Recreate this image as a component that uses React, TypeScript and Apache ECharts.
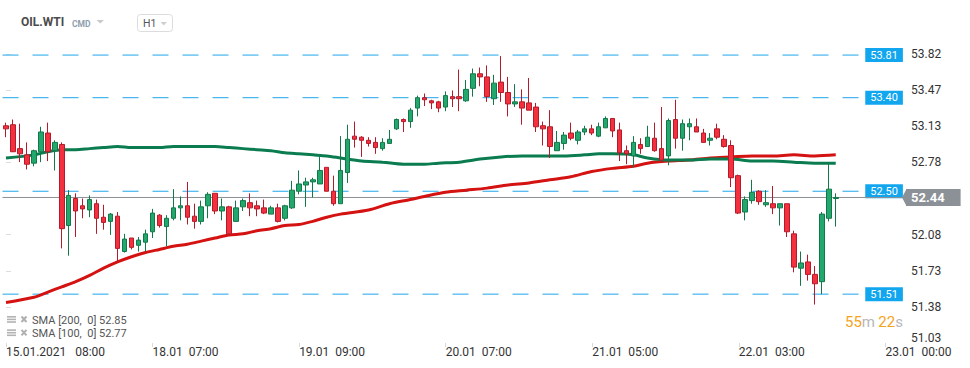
import React, { useEffect, useRef } from 'react';
import * as echarts from 'echarts';

// [open, high, low, close] for each hourly candle
const candles: number[][] = [
  [53.13, 53.16, 53.02, 53.10], [53.14, 53.19, 52.88, 52.88], [52.91, 53.15, 52.78, 52.86], [52.85, 52.97, 52.71, 52.76],
  [52.77, 52.90, 52.74, 52.89], [52.88, 53.12, 52.78, 53.07], [53.06, 53.16, 52.79, 52.88], [52.89, 52.99, 52.70, 52.97],
  [52.95, 52.97, 51.95, 52.14], [52.17, 52.51, 51.88, 52.46], [52.43, 52.48, 52.06, 52.31], [52.36, 52.43, 52.24, 52.33],
  [52.32, 52.46, 52.25, 52.42], [52.38, 52.42, 52.09, 52.24], [52.25, 52.37, 52.13, 52.20], [52.21, 52.29, 52.08, 52.28],
  [52.26, 52.30, 51.82, 51.95], [51.92, 52.09, 51.91, 52.04], [52.05, 52.05, 51.94, 51.96], [51.98, 52.06, 51.92, 52.03],
  [52.01, 52.13, 51.92, 52.09], [52.11, 52.33, 52.05, 52.29], [52.27, 52.28, 52.15, 52.17], [52.16, 52.27, 51.97, 52.24],
  [52.24, 52.52, 52.22, 52.34], [52.34, 52.45, 52.22, 52.36], [52.36, 52.59, 52.18, 52.25], [52.26, 52.38, 52.14, 52.21],
  [52.21, 52.41, 52.18, 52.35], [52.36, 52.49, 52.24, 52.47], [52.48, 52.48, 52.28, 52.31], [52.31, 52.43, 52.22, 52.35],
  [52.35, 52.36, 52.08, 52.09], [52.21, 52.41, 52.21, 52.34], [52.35, 52.43, 52.31, 52.41], [52.39, 52.48, 52.26, 52.34],
  [52.36, 52.41, 52.26, 52.33], [52.34, 52.42, 52.28, 52.29], [52.28, 52.36, 52.28, 52.34], [52.34, 52.38, 52.20, 52.21],
  [52.24, 52.37, 52.22, 52.36], [52.34, 52.60, 52.33, 52.51], [52.50, 52.70, 52.47, 52.57], [52.56, 52.63, 52.35, 52.59],
  [52.59, 52.63, 52.44, 52.61], [52.57, 52.83, 52.57, 52.70], [52.73, 52.73, 52.50, 52.50], [52.50, 52.65, 52.36, 52.38],
  [52.38, 53.03, 52.38, 52.70], [52.68, 53.14, 52.58, 53.00], [53.03, 53.17, 52.92, 53.00], [53.02, 53.03, 52.83, 52.99],
  [52.99, 53.02, 52.93, 52.96], [52.97, 53.02, 52.86, 52.92], [52.91, 53.01, 52.89, 52.97], [52.96, 53.09, 52.96, 53.00],
  [53.10, 53.20, 53.09, 53.19], [53.19, 53.20, 53.07, 53.17], [53.17, 53.30, 53.11, 53.28], [53.30, 53.42, 53.22, 53.40],
  [53.40, 53.44, 53.32, 53.38], [53.37, 53.38, 53.29, 53.35], [53.36, 53.37, 53.26, 53.30], [53.31, 53.46, 53.27, 53.42],
  [53.41, 53.47, 53.31, 53.39], [53.41, 53.67, 53.27, 53.39], [53.37, 53.57, 53.36, 53.48], [53.49, 53.68, 53.41, 53.63],
  [53.63, 53.69, 53.51, 53.60], [53.60, 53.71, 53.36, 53.41], [53.39, 53.62, 53.33, 53.54], [53.55, 53.80, 53.36, 53.45],
  [53.45, 53.60, 53.22, 53.34], [53.34, 53.53, 53.31, 53.36], [53.36, 53.48, 53.14, 53.30], [53.35, 53.59, 53.28, 53.28],
  [53.31, 53.35, 53.07, 53.12], [53.13, 53.17, 52.94, 53.10], [53.12, 53.28, 52.82, 52.93], [52.89, 53.08, 52.89, 52.97],
  [52.96, 53.07, 52.90, 53.04], [53.06, 53.16, 52.99, 53.01], [52.99, 53.09, 52.95, 53.07], [53.07, 53.13, 53.04, 53.10],
  [53.10, 53.14, 53.04, 53.06], [53.03, 53.16, 53.02, 53.12], [53.11, 53.22, 53.11, 53.20], [53.20, 53.20, 53.02, 53.08],
  [53.09, 53.16, 52.79, 52.87], [52.89, 52.94, 52.76, 52.86], [52.84, 53.03, 52.73, 52.97], [52.95, 53.01, 52.86, 52.91],
  [52.93, 53.13, 52.93, 53.02], [53.01, 53.16, 52.88, 52.89], [52.91, 53.31, 52.78, 52.80], [52.84, 53.20, 52.75, 53.18],
  [53.19, 53.38, 52.91, 53.01], [53.01, 53.19, 52.89, 53.15], [53.12, 53.20, 52.99, 53.15], [53.12, 53.20, 53.07, 53.07],
  [53.06, 53.10, 52.97, 52.97], [52.99, 53.06, 52.94, 53.01], [53.10, 53.15, 53.00, 53.02], [53.00, 53.04, 52.92, 52.93],
  [52.94, 52.99, 52.54, 52.63], [52.65, 52.66, 52.28, 52.29], [52.30, 52.45, 52.22, 52.42], [52.41, 52.61, 52.38, 52.49],
  [52.50, 52.51, 52.37, 52.40], [52.37, 52.51, 52.35, 52.39], [52.38, 52.55, 52.28, 52.34], [52.34, 52.38, 52.17, 52.38],
  [52.38, 52.38, 52.06, 52.11], [52.09, 52.12, 51.72, 51.77], [51.76, 51.92, 51.59, 51.81], [51.82, 51.89, 51.64, 51.70],
  [51.70, 51.78, 51.41, 51.61], [51.63, 52.30, 51.51, 52.28], [52.24, 52.77, 52.21, 52.52], [52.43, 52.48, 52.16, 52.44],
];

// [candle index, value]
const sma200: number[][] = [
  [0, 51.43], [4, 51.48], [6, 51.53], [8, 51.58], [10, 51.63], [12, 51.69], [14, 51.76], [16, 51.82],
  [18, 51.87], [20, 51.91], [22, 51.94], [24, 51.97], [26, 51.99], [28, 52.02], [30, 52.05], [32, 52.08],
  [34, 52.09], [36, 52.12], [38, 52.14], [40, 52.17], [42, 52.18], [44, 52.21], [46, 52.25], [48, 52.28],
  [52, 52.32], [55, 52.38], [58, 52.42], [60, 52.45], [63, 52.49], [66, 52.51], [69, 52.53], [72, 52.56],
  [75, 52.58], [78, 52.61], [81, 52.64], [84, 52.69], [87, 52.72], [90, 52.74], [92, 52.77], [95, 52.79],
  [98, 52.80], [101, 52.82], [104, 52.83], [107, 52.84], [110, 52.84], [113, 52.85], [116, 52.84], [119, 52.85],
];

const sma100: number[][] = [
  [0, 52.82], [4, 52.85], [6, 52.88], [8, 52.90], [10, 52.90], [12, 52.91], [14, 52.92], [16, 52.93],
  [18, 52.92], [20, 52.92], [22, 52.92], [24, 52.93], [26, 52.93], [28, 52.93], [30, 52.93], [32, 52.92],
  [34, 52.91], [36, 52.90], [38, 52.89], [40, 52.87], [42, 52.86], [44, 52.85], [46, 52.84], [48, 52.82],
  [51, 52.79], [54, 52.78], [57, 52.76], [60, 52.76], [62, 52.77], [65, 52.78], [68, 52.81], [71, 52.83],
  [74, 52.84], [77, 52.84], [80, 52.84], [83, 52.85], [85, 52.86], [87, 52.86], [90, 52.85], [92, 52.82],
  [95, 52.80], [98, 52.80], [101, 52.81], [104, 52.81], [107, 52.79], [110, 52.79], [113, 52.78], [116, 52.77],
  [119, 52.77],
];

const levels = [53.81, 53.40, 52.50, 51.51];
const levelLabels = ['53.81', '53.40', '52.50', '51.51'];
const lastPrice = 52.44;
const lastPriceLabel = '52.44';

const xTickPos = [0, 21.02, 42.04, 63.06, 84.08, 105.1, 126.12];
const xTickLabels = ['15.01.2021   08:00', '18.01  07:00', '19.01  09:00', '20.01  07:00', '21.01  05:00', '22.01  03:00', '23.01  00:00'];
const yTickValues = [51.04, 51.3875, 51.735, 52.0825, 52.7775, 53.125, 53.4725, 53.82];
const yTickLabels = ['51.03', '51.38', '51.73', '52.08', '52.78', '53.13', '53.47', '53.82'];

const legendRows = ['SMA [200,  0] 52.85', 'SMA [100,  0] 52.77'];
const SLOTS = 129;
const LEVEL_END = 122.8;
const FONT = 'Roboto, "Noto Sans", Arial, sans-serif';
const LEVEL_BLUE = '#1ea6ec';

const nearest = (arr: number[], v: number) => {
  let bi = 0;
  arr.forEach((a, i) => {
    if (Math.abs(a - v) < Math.abs(arr[bi] - v)) bi = i;
  });
  return bi;
};

export default function App() {
  const ref = useRef<HTMLDivElement>(null);

  useEffect(() => {
    if (!ref.current) return;
    const chart = echarts.init(ref.current, null, { renderer: 'svg' });

    const levelSeries = levels.map((v, i) => ({
      name: 'level' + i,
      type: 'line',
      xAxisIndex: 1,
      yAxisIndex: 0,
      data: [[-0.5, v], [LEVEL_END, v]],
      showSymbol: false,
      symbol: 'none',
      silent: true,
      clip: false,
      z: 1,
      color: LEVEL_BLUE,
      lineStyle: { color: LEVEL_BLUE, width: 1, type: [16, 14] },
      endLabel: {
        show: true,
        formatter: levelLabels[i],
        distance: 3,
        color: '#fff',
        backgroundColor: '#12a6ee',
        fontSize: 11,
        lineHeight: 12,
        fontFamily: FONT,
        padding: [1, 5, 1, 5],
      },
    }));

    const option: any = {
      animation: false,
      textStyle: { fontFamily: FONT },
      grid: { left: 2.5, right: 68, top: 40, bottom: 25 },
      xAxis: [
        {
          type: 'category',
          data: Array.from({ length: SLOTS }, (_, i) => String(i)),
          boundaryGap: true,
          axisLine: { show: false },
          axisTick: { show: false },
          axisLabel: { show: false },
          splitLine: { show: false },
        },
        {
          type: 'value',
          min: -0.5,
          max: SLOTS - 0.5,
          position: 'bottom',
          axisLine: { show: false },
          splitLine: { show: false },
          axisTick: { show: true, customValues: xTickPos, length: 4, lineStyle: { color: '#dadada' } },
          axisLabel: {
            customValues: xTickPos,
            formatter: (v: number) => xTickLabels[nearest(xTickPos, v)],
            align: 'left',
            margin: 3,
            color: '#333',
            fontSize: 12,
            fontFamily: FONT,
          },
        },
      ],
      yAxis: {
        type: 'value',
        position: 'right',
        min: 51.04,
        max: 53.955,
        axisLine: { show: false },
        splitLine: { show: false },
        axisTick: { show: true, customValues: yTickValues.slice(1), length: 5, lineStyle: { color: '#dddddd' } },
        axisLabel: {
          customValues: yTickValues,
          margin: 9,
          color: '#333',
          fontSize: 12,
          fontFamily: FONT,
          formatter: (v: number) => {
            const i = nearest(yTickValues, v);
            return i === 0 ? `{lo|${yTickLabels[i]}}` : yTickLabels[i];
          },
          rich: { lo: { padding: [0, 0, 10, 0], color: '#333', fontSize: 12, fontFamily: FONT } },
        },
      },
      series: [
        ...levelSeries,
        {
          name: 'last',
          type: 'line',
          xAxisIndex: 1,
          yAxisIndex: 0,
          data: [[-0.5, lastPrice], [SLOTS - 0.5, lastPrice]],
          showSymbol: false,
          symbol: 'none',
          silent: true,
          clip: false,
          z: 2,
          color: '#8b9095',
          lineStyle: { color: '#8b9095', width: 1, type: 'solid' },
          endLabel: {
            show: true,
            distance: 4,
            color: '#fff',
            backgroundColor: '#8b9196',
            fontSize: 13,
            fontWeight: 'bold',
            lineHeight: 13,
            fontFamily: FONT,
            padding: [2, 16, 2, 5],
            formatter: lastPriceLabel,
          },
        },
        {
          name: 'SMA200',
          type: 'line',
          xAxisIndex: 1,
          yAxisIndex: 0,
          data: sma200,
          smooth: 0.3,
          showSymbol: false,
          z: 3,
          color: '#d41212',
          lineStyle: { color: '#d41212', width: 3 },
        },
        {
          name: 'SMA100',
          type: 'line',
          xAxisIndex: 1,
          yAxisIndex: 0,
          data: sma100,
          smooth: 0.3,
          showSymbol: false,
          z: 3,
          color: '#0b7c4f',
          lineStyle: { color: '#0b7c4f', width: 3 },
        },
        {
          name: 'OIL.WTI',
          type: 'candlestick',
          xAxisIndex: 0,
          yAxisIndex: 0,
          barWidth: 5,
          z: 4,
          data: candles.map(([o, h, l, c]) => [o, c, l, h]),
          itemStyle: {
            color: '#22a86c',
            borderColor: '#12784a',
            color0: '#f4303f',
            borderColor0: '#b31b2a',
            borderWidth: 1,
          },
        },
      ],
    };

    chart.setOption(option);

    const yLast = chart.convertToPixel({ yAxisIndex: 0 } as any, lastPrice) as number;
    const xRight = chart.convertToPixel({ xAxisIndex: 1 } as any, SLOTS - 0.5) as number;

    const graphics: any[] = [
      { type: 'text', left: 21, top: 16, style: { text: 'OIL.WTI', fill: '#4b4b4b', font: `bold 12px ${FONT}` } },
      { type: 'text', left: 72, top: 19.5, style: { text: 'CMD', fill: '#8d9dad', font: `bold 8.5px ${FONT}` } },
      { type: 'polygon', shape: { points: [[96.5, 20], [104, 20], [100.25, 23.5]] }, style: { fill: '#c9c9c9' } },
      { type: 'rect', shape: { x: 137.5, y: 14.5, width: 35, height: 17, r: 3 }, style: { fill: '#fff', stroke: '#dcdcdc', lineWidth: 1 } },
      { type: 'text', left: 143, top: 18, style: { text: 'H1', fill: '#555', font: `10.5px ${FONT}` } },
      { type: 'polygon', shape: { points: [[160.5, 22], [167, 22], [163.75, 25.5]] }, style: { fill: '#cfcfcf' } },
      {
        type: 'polygon',
        z: 100,
        shape: { points: [[xRight, yLast], [xRight + 4.5, yLast - 8.5], [xRight + 4.5, yLast + 8.5]] },
        style: { fill: '#8b9196' },
      },
      {
        type: 'text',
        left: 845,
        top: 314,
        style: {
          text: '{o|55}{g|m} {o|22}{g|s}',
          rich: {
            o: { fill: '#f5a31c', fontSize: 15, fontFamily: FONT },
            g: { fill: '#b7b7b7', fontSize: 15, fontFamily: FONT },
          },
        },
      },
    ];

    legendRows.forEach((txt, i) => {
      const top = 316 + i * 13.3;
      [0, 2.6, 5.2].forEach((dy) => {
        graphics.push({ type: 'rect', shape: { x: 7, y: top + dy, width: 9, height: 1.6 }, style: { fill: '#b3b3b3' } });
      });
      graphics.push({ type: 'line', shape: { x1: 21.5, y1: top + 0.5, x2: 26.5, y2: top + 6 }, style: { stroke: '#b0b0b0', lineWidth: 2 } });
      graphics.push({ type: 'line', shape: { x1: 26.5, y1: top + 0.5, x2: 21.5, y2: top + 6 }, style: { stroke: '#b0b0b0', lineWidth: 2 } });
      graphics.push({ type: 'text', left: 32, top: top - 1.5, style: { text: txt, fill: '#555', font: `11px ${FONT}` } });
    });

    chart.setOption({ graphic: graphics });

    return () => chart.dispose();
  }, []);

  return (
    <div
      ref={ref}
      style={{ position: 'fixed', left: 0, top: 0, width: 970, height: 368, background: '#fff' }}
    />
  );
}
